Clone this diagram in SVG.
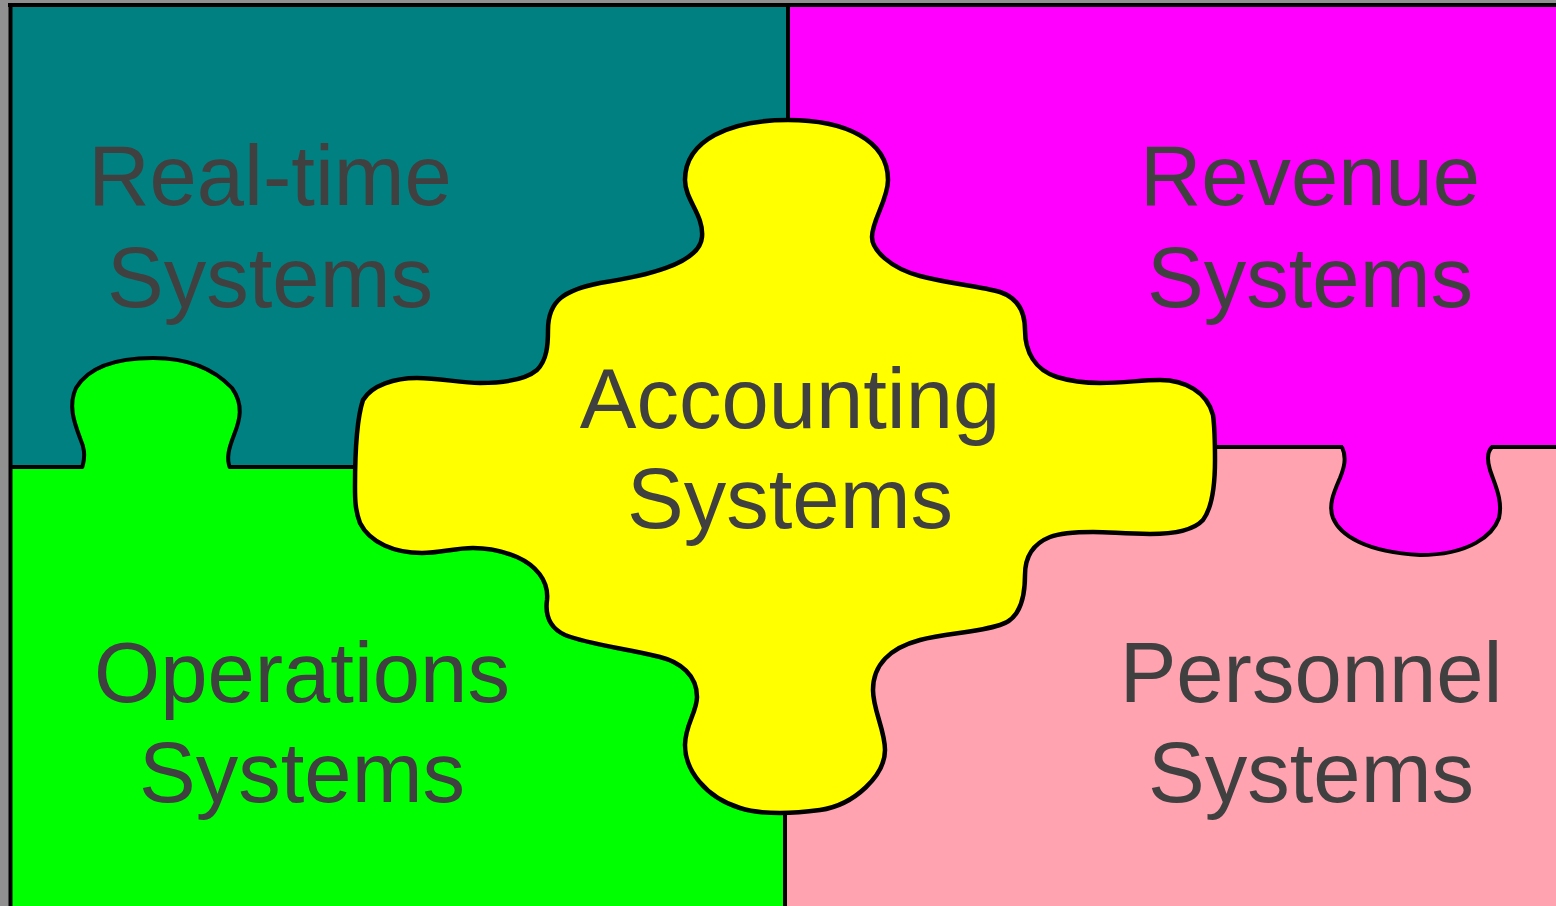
<svg xmlns="http://www.w3.org/2000/svg" width="1556" height="906" viewBox="0 0 1556 906">
<style>
.lbl{font-family:"Liberation Sans",Arial,sans-serif;font-size:85px;fill:#404040;text-anchor:middle}
.edge{fill:none;stroke:#000;stroke-width:4;stroke-linejoin:round;stroke-linecap:butt}
.piece{fill:#FFFF00;stroke:#000;stroke-width:4.5;stroke-linejoin:round}
</style>
<rect x="0" y="0" width="1556" height="906" fill="#909090"/>
<g id="realtime">
<rect x="10" y="5" width="780" height="463" fill="#008080"/>
<text class="lbl" x="270" y="205">Real-time</text>
<text class="lbl" x="270" y="307">Systems</text>
</g>
<g id="revenue">
<rect x="788" y="5" width="768" height="443" fill="#FF00FF"/>
</g>
<g id="operations">
<rect x="10" y="467" width="777" height="439" fill="#00FF00"/>
<path d="M82,468 C86,455 84,447 80,438 C74,422 68,405 76,388 C88,368 115,358 153,358 C190,358 215,370 232,388 C244,405 240,420 234,435 C229,448 226,458 230,468 Z" fill="#00FF00"/>
<path class="edge" d="M82,468 C86,455 84,447 80,438 C74,422 68,405 76,388 C88,368 115,358 153,358 C190,358 215,370 232,388 C244,405 240,420 234,435 C229,448 226,458 230,468"/>
<text class="lbl" x="302" y="702">Operations</text>
<text class="lbl" x="302" y="802">Systems</text>
</g>
<g id="personnel">
<rect x="785" y="447" width="771" height="459" fill="#FFA3B1"/>
<path d="M1342,447 C1347,458 1344,468 1340,478 C1334,492 1328,505 1333,518 C1340,535 1365,552 1420,555 C1470,555 1493,535 1499,518 C1503,500 1495,485 1490,470 C1487,460 1487,452 1492,447 Z" fill="#FF00FF"/>
<path class="edge" d="M1342,447 C1347,458 1344,468 1340,478 C1334,492 1328,505 1333,518 C1340,535 1365,552 1420,555 C1470,555 1493,535 1499,518 C1503,500 1495,485 1490,470 C1487,460 1487,452 1492,447"/>
<text class="lbl" x="1311" y="702">Personnel</text>
<text class="lbl" x="1311" y="802">Systems</text>
</g>
<g id="revenue-label">
<text class="lbl" x="1310" y="205">Revenue</text>
<text class="lbl" x="1310" y="307">Systems</text>
</g>
<g id="connectors">
<line class="edge" x1="8" y1="5" x2="1556" y2="5"/>
<line class="edge" x1="10.5" y1="5" x2="10.5" y2="906" stroke-width="4.5"/>
<line class="edge" x1="788" y1="5" x2="788" y2="122"/>
<line class="edge" x1="785" y1="811" x2="785" y2="906"/>
<line class="edge" x1="10" y1="467" x2="83" y2="467"/>
<line class="edge" x1="229" y1="467" x2="357" y2="467"/>
<line class="edge" x1="1213" y1="447" x2="1343" y2="447"/>
<line class="edge" x1="1491" y1="447" x2="1556" y2="447"/>
</g>
<g id="accounting">
<path class="piece" d="M788,120 C845,120 888,140 888,180 C888,200 872,220 872,237 C872,250 890,268 920,276 C950,284 980,286 1000,292 C1018,298 1025,312 1025,330 C1025,352 1035,370 1057,377 C1070,381 1085,383 1100,383 C1125,383 1140,380 1160,380 C1185,380 1207,392 1213,415 C1215,430 1215,445 1215,460 C1215,485 1212,508 1203,520 C1192,532 1170,534 1150,534 C1125,534 1110,532 1093,532 C1075,532 1060,533 1050,537 C1030,545 1025,560 1025,575 C1025,600 1018,620 1000,625 C975,633 945,633 920,640 C890,648 873,665 873,690 C873,710 885,730 885,750 C885,775 855,805 820,810 C805,812 795,813 780,813 C765,813 752,812 740,808 C705,797 685,770 685,745 C685,725 697,712 697,697 C697,675 680,662 660,657 C625,648 590,645 565,635 C550,628 545,615 547,600 C549,580 535,565 517,557 C505,552 490,548 473,548 C455,548 440,553 422,553 C395,553 370,543 360,523 C355,510 355,498 355,487 C355,450 357,418 363,400 C372,385 395,378 417,378 C440,378 460,383 480,383 C505,383 525,380 537,370 C547,360 548,345 548,330 C548,300 565,290 600,283 C640,277 700,265 702,237 C704,215 685,200 685,180 C685,140 730,120 788,120 Z"/>
<text class="lbl" x="790" y="428">Accounting</text>
<text class="lbl" x="790" y="528">Systems</text>
</g>
</svg>
